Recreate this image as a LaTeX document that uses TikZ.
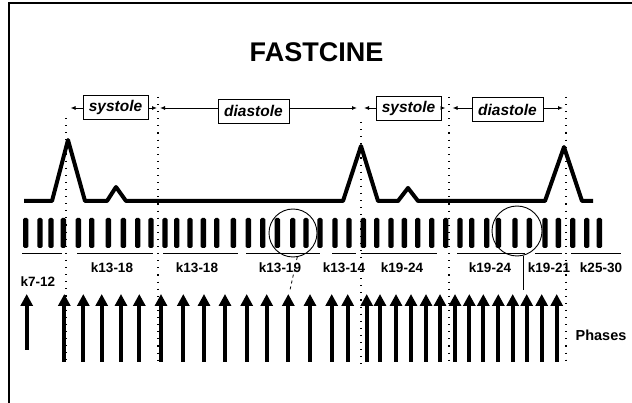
\documentclass[tikz,border=0pt]{standalone}
\usepackage{fontspec}
\setmainfont{Liberation Sans}
\usetikzlibrary{arrows.meta}
\begin{document}
\begin{tikzpicture}[x=1pt,y=-1pt,
  frame/.style={line width=2.4pt},
  ecg/.style={line width=4pt, line join=round},
  dots/.style={line width=1.1pt, dash pattern=on 1.1pt off 6pt},
  phasebox/.style={draw, line width=0.9pt, fill=white, inner sep=0pt, minimum height=24pt, font=\fontsize{15.5}{15.5}\selectfont\bfseries\itshape},
  span/.style={line width=0.9pt, -{Latex[length=5pt,width=4pt]}},
  bar/.style={fill=black, rounded corners=1.5pt},
  uline/.style={line width=1.6pt},
  klabel/.style={font=\fontsize{13.5}{13.5}\selectfont\bfseries, inner sep=0pt},
  phasearrow/.style={line width=3.8pt, -{Triangle[length=12pt,width=12pt]}},
  ring/.style={draw, circle, line width=0.9pt, inner sep=0pt}
]
\useasboundingbox (0,0) rectangle (632,403);
% frame
\draw[frame] (9,403) -- (9,3) -- (632,3);
% title
\node[font=\fontsize{27}{27}\selectfont\bfseries] (title) at (316.5,52) {FASTCINE};
% dotted phase boundaries
\draw[dots] (66,118) -- (66,365);
\draw[dots] (158,97) -- (158,365);
\draw[dots] (361,122) -- (361,365);
\draw[dots] (449,97) -- (449,365);
\draw[dots] (566,97) -- (566,365);
% phase labels
\coordinate (a1) at (70.5,108);
\coordinate (a2) at (157,108);
\coordinate (a3) at (160,108);
\coordinate (a4) at (357,108);
\coordinate (a5) at (364,108);
\coordinate (a6) at (445.5,108);
\coordinate (a7) at (452.5,108);
\coordinate (a8) at (563,108);
\node[phasebox, minimum width=65pt] (s1) at (115.5,107) {systole};
\node[phasebox, minimum width=71pt] (d1) at (253.5,111) {diastole};
\node[phasebox, minimum width=65pt] (s2) at (408.5,108.5) {systole};
\node[phasebox, minimum width=71pt] (d2) at (507.5,109.5) {diastole};
\draw[span] (s1.west |- a1) -- (a1);
\draw[span] (s1.east |- a2) -- (a2);
\draw[span] (d1.west |- a3) -- (a3);
\draw[span] (d1.east |- a4) -- (a4);
\draw[span] (s2.west |- a5) -- (a5);
\draw[span] (s2.east |- a6) -- (a6);
\draw[span] (d2.west |- a7) -- (a7);
\draw[span] (d2.east |- a8) -- (a8);
% ECG trace
\draw[ecg] (24,201) -- (52,201) -- (68,140) -- (85,201) -- (107,201) -- (116,187) -- (126,201)
  -- (343,201) -- (361,146) -- (378,201) -- (398,201) -- (408,188) -- (418,201)
  -- (545,201) -- (564,147) -- (582,201) -- (593,201);
% image bars
\foreach \x in {25.7,40,51,63.3,78.3,91.7,108.3,123.3,137.7,151,165,
                176.7,190,203.3,216.7,233.3,248.3,262.7,277.3,292.7,306,320,
                335,349,363.3,376.7,391,404.3,417.7,431.7,445.7,460,471.7,
                486.7,498.3,515,529.3,545,558.3,572.7,586.7,599.3}
  \fill[bar] ({\x-2.7},218) rectangle ({\x+2.7},248);
% underlines
\foreach \a/\b in {22/62,77/153,163/238,246/320,332/356,361/437,457/525,535/562,571/621}
  \draw[uline] (\a,253.5) -- (\b,253.5);
% k labels
\node[klabel] (k1) at (38,282) {k7-12};
\node[klabel] (k2) at (112,268) {k13-18};
\node[klabel] (k3) at (197,268) {k13-18};
\node[klabel] (k4) at (280,268) {k13-19};
\node[klabel] (k5) at (344,268) {k13-14};
\node[klabel] (k6) at (402,268) {k19-24};
\node[klabel] (k7) at (490,268) {k19-24};
\node[klabel] (k8) at (549,268) {k19-21};
\node[klabel] (k9) at (601,268) {k25-30};
% phase arrows
\draw[phasearrow] (26.7,350) -- (26.7,294);
\foreach \x in {64.3,83.3,101.7,121,139.3,161,183.3,204,225,246.7,266.7,288.3,310,
                331.7,347.7,366.7,380,396,411,426,440,455,469.3,483.3,498.3,512.7,526.7,541.7,556.7}
  \draw[phasearrow] (\x,362) -- (\x,294);
\node[font=\fontsize{14.5}{14.5}\selectfont\bfseries, inner sep=0pt] (ph) at (601,335) {Phases};
% circles and their pointers
\node[ring, minimum size=48pt] (c1) at (293,233) {};
\node[ring, minimum size=50pt] (c2) at (517,231) {};
\coordinate (t1) at (290,290);
\draw[dashed, line width=0.8pt] (c1.-80) -- (t1);
\draw[line width=0.9pt] (c2.-76) -- (c2.-76 |- t1);
\end{tikzpicture}
\end{document}
